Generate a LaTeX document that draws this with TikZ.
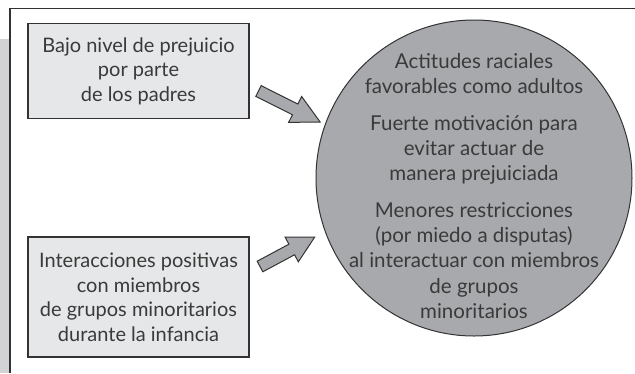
\documentclass[tikz,border=0pt]{standalone}
\usepackage{fontspec}
\setmainfont{Lato}
\definecolor{boxfill}{HTML}{E6E7E8}
\definecolor{circfill}{HTML}{A7A9AC}
\definecolor{stripfill}{HTML}{D1D3D4}
\definecolor{linecol}{HTML}{333333}
\definecolor{txtcol}{HTML}{3A3A3A}
\tikzset{
  cause/.style={draw=linecol, line width=1.3pt, fill=boxfill, text=txtcol, align=center,
    minimum width=221pt, minimum height=95pt, inner sep=0pt, font=\fontsize{20}{24.5}\selectfont},
  effect/.style={circle, draw=linecol, line width=1pt, fill=circfill, minimum size=316pt, inner sep=0pt},
  efftext/.style={text=txtcol, align=center, font=\fontsize{20.5}{25.3}\selectfont},
  blockarrow/.style={draw=linecol, line width=1pt, fill=circfill, line join=miter},
}
\begin{document}
\begin{tikzpicture}[x=1pt,y=-1pt]
\useasboundingbox (0,0) rectangle (635,373);
% left strip and frame
\fill[stripfill] (0,39) rectangle (9.3,373);
\draw[linecol, line width=1.3pt] (10,373) -- (10,8.5) -- (640,8.5);
% boxes
\node[cause] (b1) at (138.5,71) {Bajo nivel de prejuicio\\por parte\\de los padres};
\node[cause, minimum height=120pt] (b2) at (138.5,297) {Interacciones positivas\\con miembros\\de grupos minoritarios\\durante la infancia};
% circle
\node[effect] (c) at (474,178) {};
\node[efftext] (ct) at (474,186) {Actitudes raciales\\favorables como adultos\\[11pt]
Fuerte motivación para\\evitar actuar de\\manera prejuiciada\\[11pt]
Menores restricciones\\(por miedo a disputas)\\al interactuar con miembros\\de grupos\\minoritarios};
% arrows
\begin{scope}[shift={(258.5,91)}, rotate=-26.7]
\draw[blockarrow] (0,-6) -- (41,-6) -- (41,-14.5) -- (69,0) -- (41,14.5) -- (41,6) -- (0,6) -- cycle;
\end{scope}
\begin{scope}[shift={(260,266.5)}, rotate=28.2]
\draw[blockarrow] (0,-6) -- (36,-6) -- (36,-14) -- (62,0) -- (36,14) -- (36,6) -- (0,6) -- cycle;
\end{scope}
\end{tikzpicture}
\end{document}
